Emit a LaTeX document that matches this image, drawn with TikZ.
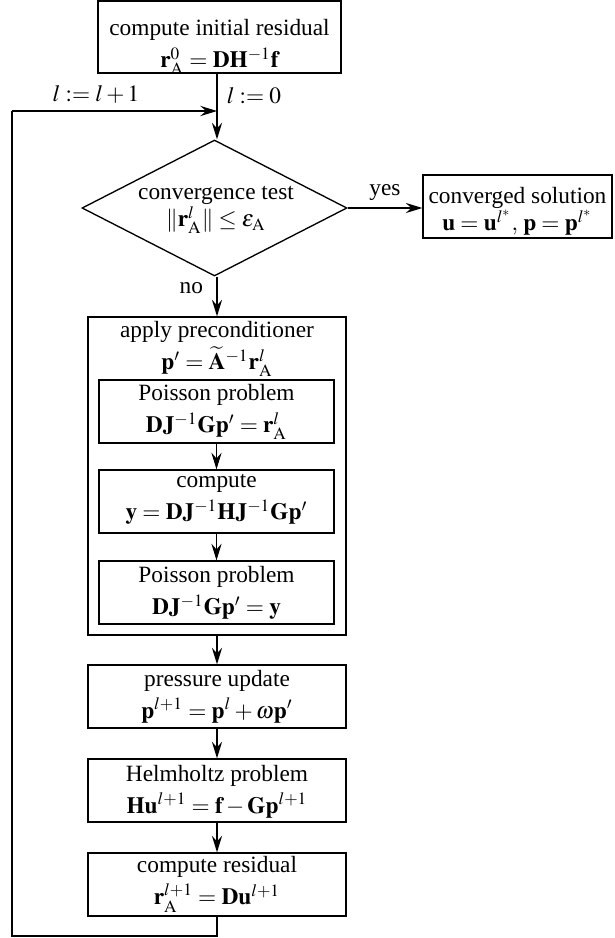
\documentclass[tikz,border=0pt]{standalone}
\usepackage{mathptmx}
\usepackage{fontspec}
\setmainfont{Liberation Serif}
\usetikzlibrary{arrows.meta,shapes.geometric}
\newcommand{\pxu}{0.45pt}
\begin{document}
\begin{tikzpicture}[x=0.45pt,y=-0.45pt,
  frame/.style={draw,line width=0.6pt,rectangle,inner sep=0pt},
  txt/.style={inner sep=0pt,align=center,font=\fontsize{10.5}{13.6}\selectfont},
  arr/.style={line width=0.6pt,-{Stealth[length=7.5pt,width=4.6pt,inset=2.6pt]}},
  ln/.style={line width=0.6pt}]
\useasboundingbox (0,0) rectangle (614,938);
% boxes
\node[frame,minimum width=243*\pxu,minimum height=72*\pxu] (init) at (219.5,37) {};
\node[draw,line width=0.6pt,diamond,inner sep=0pt,minimum width=265*\pxu,minimum height=136*\pxu] (test) at (214.5,208) {};
\node[frame,minimum width=189*\pxu,minimum height=63*\pxu] (conv) at (517.5,206.5) {};
\node[frame,minimum width=258*\pxu,minimum height=318*\pxu] (prec) at (217,476) {};
\node[frame,minimum width=235*\pxu,minimum height=63*\pxu] (pois1) at (216.5,411.5) {};
\node[frame,minimum width=235*\pxu,minimum height=63*\pxu] (comp) at (216.5,501.5) {};
\node[frame,minimum width=235*\pxu,minimum height=63*\pxu] (pois2) at (216.5,592.5) {};
\node[frame,minimum width=258*\pxu,minimum height=63*\pxu] (pres) at (217,696.5) {};
\node[frame,minimum width=258*\pxu,minimum height=63*\pxu] (helm) at (217,790.5) {};
\node[frame,minimum width=258*\pxu,minimum height=63*\pxu] (res) at (217,884.5) {};
% texts
\node[txt] (initT) at (219.5,47)
  {compute initial residual\\[0.9pt] $\mathbf{r}_{\mathrm{A}}^{0}=\mathbf{D}\mathbf{H}^{-1}\mathbf{f}$};
\node[txt] (testT) at (216,210)
  {convergence test\\[-1.4pt] $\|\mathbf{r}_{\mathrm{A}}^{l}\|\le\epsilon_{\mathrm{A}}$};
\node[txt] (convT) at (517.5,211.5)
  {converged solution\\[-1.3pt] $\mathbf{u}=\mathbf{u}^{l^*},\,\mathbf{p}=\mathbf{p}^{l^*}$};
\node[txt] (precT) at (217,349)
  {apply preconditioner\\[0.8pt] $\mathbf{p}'=\widetilde{\mathbf{A}}^{-1}\mathbf{r}_{\mathrm{A}}^{l}$};
\node[txt] (pois1T) at (216.5,412)
  {Poisson problem\\[0.8pt] $\mathbf{D}\mathbf{J}^{-1}\mathbf{G}\mathbf{p}'=\mathbf{r}_{\mathrm{A}}^{l}$};
\node[txt] (compT) at (216.5,499.5)
  {compute\\[0.8pt] $\mathbf{y}=\mathbf{D}\mathbf{J}^{-1}\mathbf{H}\mathbf{J}^{-1}\mathbf{G}\mathbf{p}'$};
\node[txt] (pois2T) at (216.5,593)
  {Poisson problem\\[0.8pt] $\mathbf{D}\mathbf{J}^{-1}\mathbf{G}\mathbf{p}'=\mathbf{y}$};
\node[txt] (presT) at (217,696.5)
  {pressure update\\[0.8pt] $\mathbf{p}^{l+1}=\mathbf{p}^{l}+\omega\mathbf{p}'$};
\node[txt] (helmT) at (217,791.5)
  {Helmholtz problem\\[0.8pt] $\mathbf{H}\mathbf{u}^{l+1}=\mathbf{f}-\mathbf{G}\mathbf{p}^{l+1}$};
\node[txt] (resT) at (217,884.5)
  {compute residual\\[0.8pt] $\mathbf{r}_{\mathrm{A}}^{l+1}=\mathbf{D}\mathbf{u}^{l+1}$};
% connectors
\coordinate (join) at (217,111);
\coordinate (c1) at (217,936);
\coordinate (c2) at (12,936);
\coordinate (c3) at (12,111);
\draw[arr] (init.south -| join) -- (join |- test.north);
\draw[arr] (test.east) -- node[txt,above=3pt] (yes) {yes} (test.east -| conv.west);
\draw[arr] (join |- test.south) -- node[txt,left=6pt,pos=0.3] (no) {no} (join |- prec.north);
\draw[arr] (pois1) -- (comp);
\draw[arr] (comp) -- (pois2);
\draw[arr] (prec) -- (pres);
\draw[arr] (pres) -- (helm);
\draw[arr] (helm) -- (res);
\draw[ln] (res.south) -- (c1) -- (c2) -- (c3);
\draw[arr] (c3) -- (join);
\node[txt] (inc) at (96,94) {$l:=l+1$};
\node[txt] (zero) at (254,96) {$l:=0$};
\end{tikzpicture}
\end{document}
